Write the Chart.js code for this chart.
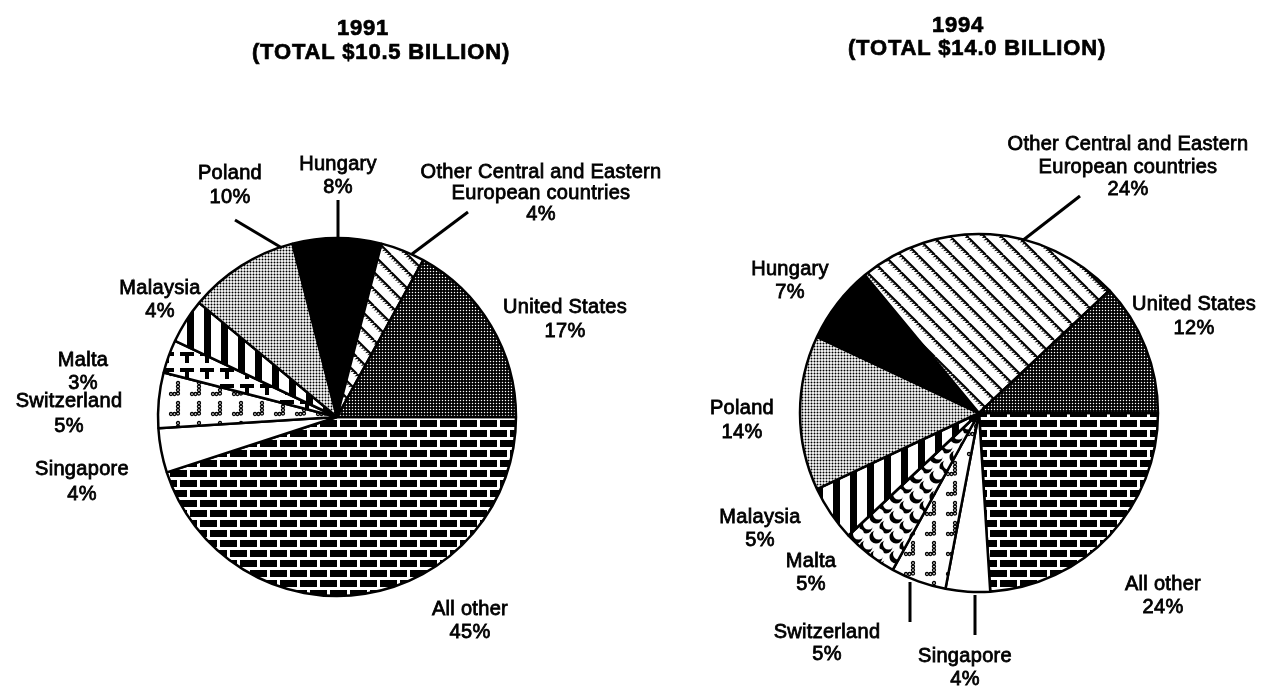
<!DOCTYPE html>
<html>
<head>
<meta charset="utf-8">
<script src="https://cdn.jsdelivr.net/npm/chart.js@4.4.1/dist/chart.umd.min.js"></script>
<style>
  body { margin: 0; background: #fff; }
  #wrap { position: relative; width: 1263px; height: 686px; }
  canvas { position: absolute; left: 0; top: 0; }
</style>
</head>
<body>
<div id="wrap">
  <canvas id="pie1991" width="1263" height="686"></canvas>
  <canvas id="pie1994" width="1263" height="686"></canvas>
</div>
<script>
// data, clockwise from 3 o'clock
var categories = ['All other', 'Singapore', 'Switzerland', 'Malta', 'Malaysia', 'Poland', 'Hungary',
  'Other Central and Eastern European countries', 'United States'];
var share1991 = [45, 4, 5, 3, 4, 10, 8, 4, 17];
var share1994 = [24, 4, 5, 5, 5, 14, 7, 24, 12];
var years = ['1991', '1994'];
var totals = ['$10.5', '$14.0'];

// how long names wrap
var nameLines = {
  'Other Central and Eastern European countries': ['Other Central and Eastern', 'European countries']
};

// ---- fill patterns ----
function tile(w, h, draw) {
  var c = document.createElement('canvas');
  c.width = w; c.height = h;
  var g = c.getContext('2d');
  g.fillStyle = '#fff'; g.fillRect(0, 0, w, h);
  g.fillStyle = '#000'; g.strokeStyle = '#000';
  draw(g, w, h);
  return g.createPattern(c, 'repeat');
}
function dot(g, x, y, r) {
  g.beginPath(); g.arc(x, y, r, 0, Math.PI * 2); g.fill();
}

var bricks = tile(20, 20, function (g) {
  g.fillRect(0, 0, 17, 7);
  g.fillRect(10, 10, 17, 7);
  g.fillRect(-10, 10, 17, 7);
});
// dark stipple: black with small white holes
var darkDots = tile(6, 6, function (g) {
  g.fillRect(0, 0, 6, 6);
  g.fillStyle = '#fff';
  [[1.5, 1.5], [4.5, 4.5], [4.5, 1.5], [1.5, 4.5]].forEach(function (p) { dot(g, p[0], p[1], 0.72); });
});
// light stipple: small black dots
var lightDots = tile(6, 6, function (g) {
  [[1.5, 1.5], [4.5, 4.5], [4.5, 1.5], [1.5, 4.5]].forEach(function (p) { dot(g, p[0], p[1], 1.0); });
});
var diagonal = tile(17, 17, function (g) {
  g.lineWidth = 2;
  for (var k = -1; k <= 1; k++) {
    g.beginPath(); g.moveTo(k * 17, 0); g.lineTo(k * 17 + 17, 17); g.stroke();
    for (var i = 0; i < 8; i++) {
      var x = k * 17 + i * 17 / 8, y = i * 17 / 8;
      g.beginPath();
      g.moveTo(x - 0.5, y + 0.5);
      g.lineTo(x - 2.5, y + 2.5);
      g.lineTo(x + 0.8, y + 1.8);
      g.fill();
    }
  }
});
var bars = tile(17, 4, function (g) { g.fillRect(0, 0, 7, 4); });
var tees = tile(20, 16, function (g) {
  g.fillRect(0, 0, 14, 4);
  g.fillRect(5, 0, 4, 11);
});
var squiggle = tile(21, 20, function (g) {
  g.lineWidth = 1.3;
  [[10, 3], [10, 6.5], [10, 10], [10, 13.5], [3, 14], [6.5, 14]].forEach(function (p) {
    g.beginPath(); g.arc(p[0], p[1], 1.5, 0, Math.PI * 2); g.stroke();
  });
});
var crescents = tile(20, 20, function (g) {
  [[6, 7], [16, 17]].forEach(function (p) {
    for (var dx = -20; dx <= 20; dx += 20) for (var dy = -20; dy <= 20; dy += 20) {
      g.fillStyle = '#000';
      dot(g, p[0] + dx, p[1] + dy, 6.5);
      g.fillStyle = '#fff';
      dot(g, p[0] + dx + 2.5, p[1] + dy - 3, 5.5);
    }
  });
});

var fills1991 = [bricks, '#fff', squiggle, tees, bars, lightDots, '#000', diagonal, darkDots];
var fills1994 = [bricks, '#fff', squiggle, crescents, bars, lightDots, '#000', diagonal, darkDots];

// label placement: [center x, first baseline, line step] per category
var place1991 = [[470, 615, 23], [82, 475, 25], [69, 407, 25], [83, 366, 23], [160, 294, 23],
  [230, 179, 24], [338, 170, 23], [541, 178, 21], [565, 313, 24]];
var place1994 = [[1163, 590, 23], [965, 662, 23], [827, 638, 22], [811, 567, 23], [760, 523, 23],
  [742, 414, 24], [790, 275, 23], [1128, 150, 22.5], [1194, 310, 24]];
var leaders1991 = [[235, 220, 282, 248], [338, 200, 338, 240], [468, 212, 412, 254]];
var leaders1994 = [[1080, 196, 1022, 241], [910, 582, 910, 622], [975, 595, 975, 635]];

var sliceLabels = {
  id: 'sliceLabels',
  afterDraw: function (chart, args, opts) {
    var ctx = chart.ctx;
    var values = chart.data.datasets[0].data;
    ctx.save();
    ctx.fillStyle = '#000';
    ctx.strokeStyle = '#000';
    ctx.textAlign = 'center';
    ctx.textBaseline = 'alphabetic';

    // title
    ctx.font = 'bold 22px "Liberation Sans", Arial, sans-serif';
    ctx.letterSpacing = '0.8px';
    ctx.lineWidth = 0.7;
    [[opts.year, opts.yearX, opts.yearY],
     ['(TOTAL ' + opts.total + ' BILLION)', opts.totalX, opts.totalY]].forEach(function (t) {
      ctx.fillText(t[0], t[1], t[2]);
      ctx.strokeText(t[0], t[1], t[2]);
    });

    // leader lines
    ctx.lineWidth = 3;
    ctx.lineCap = 'butt';
    opts.leaders.forEach(function (l) {
      ctx.beginPath(); ctx.moveTo(l[0], l[1]); ctx.lineTo(l[2], l[3]); ctx.stroke();
    });

    // slice labels
    ctx.font = '20px "Liberation Sans", Arial, sans-serif';
    ctx.letterSpacing = '0.3px';
    ctx.lineWidth = 0.8;
    chart.data.labels.forEach(function (name, i) {
      var lines = (nameLines[name] || [name]).concat([values[i] + '%']);
      var p = opts.place[i];
      lines.forEach(function (t, j) {
        ctx.fillText(t, p[0], p[1] + j * p[2]);
        ctx.strokeText(t, p[0], p[1] + j * p[2]);
      });
    });
    ctx.restore();
  }
};

function makePie(id, values, fills, pad, labelOpts) {
  return new Chart(document.getElementById(id), {
    type: 'pie',
    data: {
      labels: categories,
      datasets: [{
        data: values,
        backgroundColor: fills,
        borderColor: '#000',
        borderWidth: 2.5,
        hoverOffset: 0
      }]
    },
    options: {
      responsive: false,
      animation: false,
      devicePixelRatio: 1,
      events: [],
      rotation: 90,
      radius: 179,
      layout: { padding: pad },
      plugins: {
        legend: { display: false },
        tooltip: { enabled: false },
        sliceLabels: labelOpts
      }
    },
    plugins: [sliceLabels]
  });
}

makePie('pie1991', share1991, fills1991, { left: 0, right: 589, top: 148, bottom: 0 }, {
  year: years[0], total: totals[0], yearX: 363, yearY: 35, totalX: 381, totalY: 59,
  place: place1991, leaders: leaders1991
});
makePie('pie1994', share1994, fills1994, { left: 695, right: 0, top: 140, bottom: 0 }, {
  year: years[1], total: totals[1], yearX: 958, yearY: 32, totalX: 977, totalY: 55,
  place: place1994, leaders: leaders1994
});
</script>
</body>
</html>
